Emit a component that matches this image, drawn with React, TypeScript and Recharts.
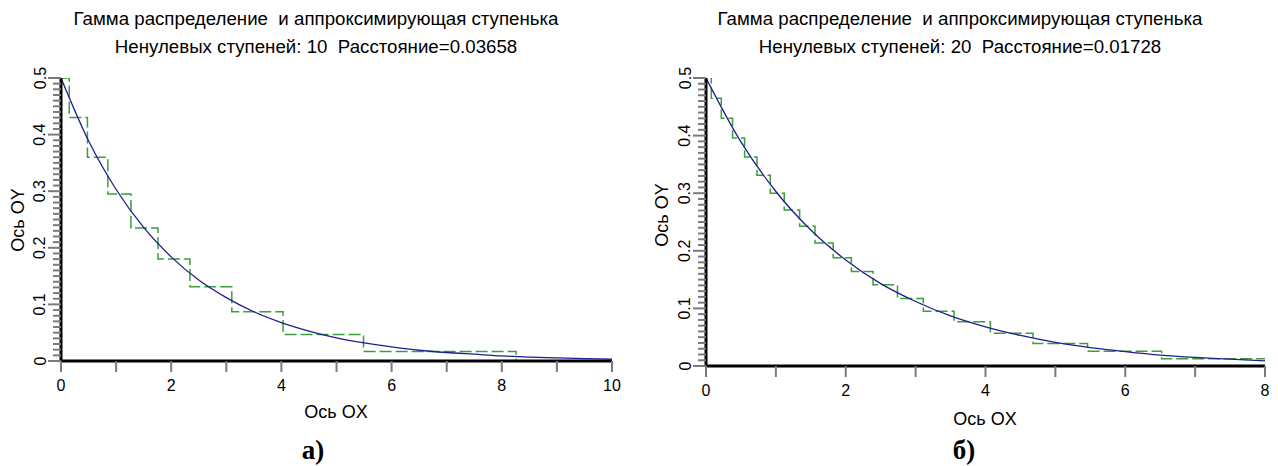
import React from "react";
import { LineChart, Line, XAxis, YAxis } from "recharts";

// gamma density
const curveX = [0, 0.5, 1, 1.5, 2, 2.5, 3, 3.5, 4, 4.5, 5, 5.5, 6, 6.5, 7, 7.5, 8, 8.5, 9, 9.5, 10];
const curveY = [
  0.5, 0.389, 0.303, 0.236, 0.184, 0.143, 0.112, 0.087, 0.068, 0.053, 0.041,
  0.032, 0.025, 0.019, 0.015, 0.012, 0.009, 0.007, 0.0056, 0.0043, 0.0034,
];

// step approximation, 10 steps (left chart): start of each step and its height
const stepsAX = [0, 0.15, 0.48, 0.85, 1.27, 1.76, 2.34, 3.1, 4.03, 5.49, 8.26];
const stepsAY = [0.5, 0.43, 0.36, 0.295, 0.235, 0.18, 0.131, 0.087, 0.047, 0.017, 0];

// step approximation, 20 steps (right chart)
const stepsBX = [
  0, 0.076, 0.219, 0.38, 0.552, 0.73, 0.92, 1.12, 1.34, 1.56, 1.82, 2.08, 2.39,
  2.74, 3.11, 3.55, 4.07, 4.68, 5.46, 6.52, 8,
];
const stepsBY = [
  0.502, 0.465, 0.43, 0.396, 0.363, 0.331, 0.3, 0.271, 0.2425, 0.2135, 0.188,
  0.164, 0.141, 0.117, 0.095, 0.077, 0.057, 0.039, 0.0256, 0.0128, 0.0128,
];

const xTicksA = [0, 1, 2, 3, 4, 5, 6, 7, 8, 9, 10];
const xTicksB = [0, 1, 2, 3, 4, 5, 6, 7, 8];
const yMajorTicks = [0, 0.1, 0.2, 0.3, 0.4, 0.5];
const yTicks = Array.from({ length: 51 }, (_, i) => i / 100);

const titleText = "Гамма распределение  и аппроксимирующая ступенька";
const subtitleA = "Ненулевых ступеней: 10  Расстояние=0.03658";
const subtitleB = "Ненулевых ступеней: 20  Расстояние=0.01728";

const SANS = "'Liberation Sans', Arial, sans-serif";
const Y_AXIS_W = 40;
const X_AXIS_H = 30;

const toPoints = (xs: number[], ys: number[]) => xs.map((x, i) => ({ x, y: ys[i] }));

const YTick = (props: any) => {
  const { x, y, payload } = props;
  const v = payload.value;
  const major = yMajorTicks.some((m) => Math.abs(m - v) < 1e-6);
  const tx = x - 21;
  return (
    <g>
      <line x1={x - (major ? 13 : 8)} x2={x} y1={y} y2={y} stroke="#7a7a7a" strokeWidth={2} />
      {major && (
        <text
          x={tx}
          y={y}
          transform={`rotate(-90 ${tx} ${y})`}
          textAnchor="middle"
          dominantBaseline="central"
          fontFamily={SANS}
          fontSize={16}
          fill="#000"
        >
          {v === 0 ? "0" : String(v)}
        </text>
      )}
    </g>
  );
};

const XTick = (props: any) => {
  const { x, y, payload } = props;
  const v = payload.value;
  return (
    <g>
      <line x1={x} x2={x} y1={y} y2={y + 11} stroke="#7a7a7a" strokeWidth={2} />
      {v % 2 === 0 && (
        <text
          x={x}
          y={y + 24}
          textAnchor="middle"
          dominantBaseline="central"
          fontFamily={SANS}
          fontSize={16}
          fill="#000"
        >
          {v}
        </text>
      )}
    </g>
  );
};

type PanelProps = {
  left: number;
  width: number;
  plotLeft: number;
  plotRight: number;
  plotBottom: number;
  xMax: number;
  xTicks: number[];
  steps: { x: number; y: number }[];
  subtitle: string;
  titleX: number;
  oxPos: [number, number];
  oyPos: [number, number];
  caption: string;
  captionPos: [number, number];
};

const Label = ({ x, y, children, style }: any) => (
  <div
    style={{
      position: "absolute",
      left: x,
      top: y,
      transform: "translate(-50%, -50%)",
      whiteSpace: "pre",
      fontFamily: SANS,
      fontSize: 18,
      color: "#000",
      lineHeight: 1,
      ...style,
    }}
  >
    {children}
  </div>
);

const Panel = (p: PanelProps) => {
  const curve = toPoints(curveX, curveY).filter((d) => d.x <= p.xMax);
  const margin = {
    top: 78,
    left: p.plotLeft - Y_AXIS_W,
    right: p.width - p.plotRight,
    bottom: 466 - p.plotBottom - X_AXIS_H,
  };
  return (
    <>
      <div style={{ position: "absolute", left: p.left, top: 0 }}>
        <LineChart width={p.width} height={466} margin={margin}>
          <XAxis
            type="number"
            dataKey="x"
            domain={[0, p.xMax]}
            ticks={p.xTicks}
            interval={0}
            height={X_AXIS_H}
            tickSize={0}
            tickMargin={0}
            tick={<XTick />}
            axisLine={{ stroke: "#000", strokeWidth: 3 }}
            allowDataOverflow
          />
          <YAxis
            type="number"
            dataKey="y"
            domain={[0, 0.5]}
            ticks={yTicks}
            interval={0}
            width={Y_AXIS_W}
            tickSize={0}
            tickMargin={0}
            tick={<YTick />}
            axisLine={{ stroke: "#000", strokeWidth: 3 }}
            allowDataOverflow
          />
          <Line
            data={p.steps}
            dataKey="y"
            type="stepAfter"
            stroke="#3a9e3a"
            strokeWidth={1.5}
            strokeDasharray="12 4"
            dot={false}
            isAnimationActive={false}
          />
          <Line
            data={curve}
            dataKey="y"
            type="monotone"
            stroke="#1f1f8f"
            strokeWidth={1.3}
            dot={false}
            isAnimationActive={false}
          />
        </LineChart>
      </div>
      <Label x={p.titleX} y={19} style={{ fontSize: 18.7 }}>{titleText}</Label>
      <Label x={p.titleX} y={47} style={{ fontSize: 18.7 }}>{p.subtitle}</Label>
      <Label x={p.oxPos[0]} y={p.oxPos[1]}>Ось OX</Label>
      <Label x={p.oyPos[0]} y={p.oyPos[1]} style={{ transform: "translate(-50%, -50%) rotate(-90deg)" }}>
        Ось OY
      </Label>
      <Label
        x={p.captionPos[0]}
        y={p.captionPos[1]}
        style={{ fontFamily: "'Liberation Serif', 'Times New Roman', serif", fontWeight: "bold", fontSize: 27 }}
      >
        {p.caption}
      </Label>
    </>
  );
};

export default function App() {
  return (
    <div style={{ position: "absolute", left: 0, top: 0, width: 1278, height: 466, background: "#fff" }}>
      <Panel
        left={0}
        width={640}
        plotLeft={61}
        plotRight={612}
        plotBottom={361}
        xMax={10}
        xTicks={xTicksA}
        steps={toPoints(stepsAX, stepsAY)}
        subtitle={subtitleA}
        titleX={316}
        oxPos={[336, 412]}
        oyPos={[18, 220]}
        caption="а)"
        captionPos={[313, 450]}
      />
      <Panel
        left={640}
        width={638}
        plotLeft={66}
        plotRight={625}
        plotBottom={366}
        xMax={8}
        xTicks={xTicksB}
        steps={toPoints(stepsBX, stepsBY)}
        subtitle={subtitleB}
        titleX={960}
        oxPos={[985, 419]}
        oyPos={[662, 215]}
        caption="б)"
        captionPos={[964, 450]}
      />
    </div>
  );
}
